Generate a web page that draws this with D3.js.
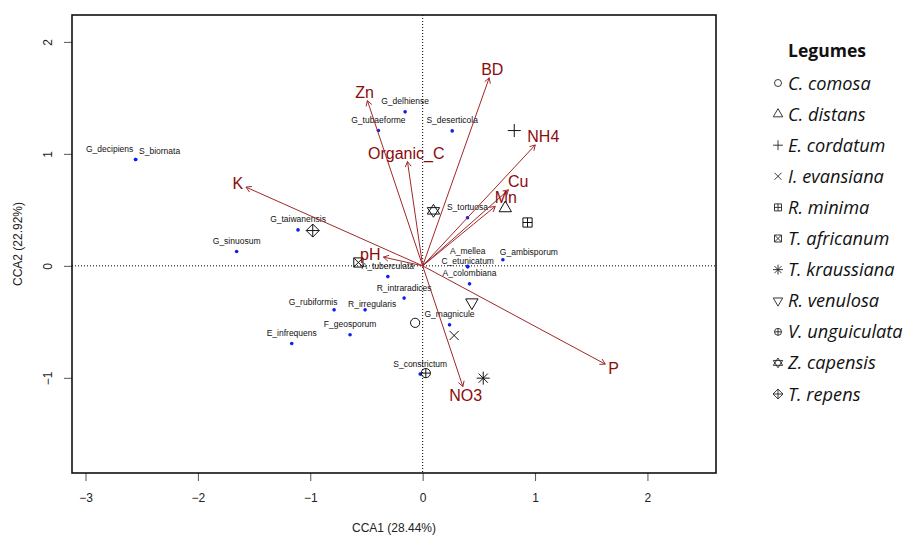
<!DOCTYPE html>
<html>
<head>
<meta charset="utf-8">
<script src="https://cdn.jsdelivr.net/npm/d3@7"></script>
<style>
  body { margin: 0; background: #fff; }
  text { font-family: "Liberation Sans", Arial, sans-serif; }
</style>
</head>
<body>
<svg id="chart" width="911" height="536"></svg>
<script>
// fungal species scores (blue dots)
var species = ["G_decipiens", "S_biornata", "G_taiwanensis", "G_sinuosum", "G_delhiense",
  "G_tubaeforme", "S_deserticola", "S_tortuosa", "A_tuberculata", "R_intraradices",
  "G_rubiformis", "R_irregularis", "F_geosporum", "E_infrequens", "S_constrictum",
  "G_magnicule", "A_colombiana", "C_etunicatum", "A_mellea", "G_ambisporum"];
var speciesX = [-2.554, -2.554, -1.109, -1.655, -0.156, -0.394, 0.263, 0.399, -0.310, -0.165,
  -0.788, -0.512, -0.646, -1.165, -0.022, 0.239, 0.417, 0.401, 0.401, 0.714];
var speciesY = [0.949, 0.949, 0.321, 0.128, 1.375, 1.208, 1.205, 0.429, -0.096, -0.288,
  -0.393, -0.393, -0.616, -0.694, -0.967, -0.527, -0.161, -0.009, -0.004, 0.054];
// label nudges (px) where labels were pushed apart
var labelNudge = {
  "G_decipiens": [-26, 0], "S_biornata": [24, 2], "G_rubiformis": [-21, 3],
  "R_irregularis": [7, 4.5], "G_ambisporum": [26, 3], "C_etunicatum": [0, 4.5],
  "A_mellea": [0, -4.5]
};

// environmental vectors
var envVars = ["BD", "Zn", "Organic_C", "NH4", "Cu", "Mn", "K", "pH", "P", "NO3"];
var envX = [0.592, -0.492, -0.135, 1.002, 0.764, 0.646, -1.572, -0.349, 1.625, 0.358];
var envY = [1.679, 1.476, 0.931, 1.080, 0.679, 0.531, 0.703, 0.078, -0.878, -1.078];

// legume site scores
var legumes = ["C. comosa", "C. distans", "E. cordatum", "I. evansiana", "R. minima",
  "T. africanum", "T. kraussiana", "R. venulosa", "V. unguiculata", "Z. capensis", "T. repens"];
var legumePch = [1, 2, 3, 4, 12, 7, 8, 6, 10, 11, 9];
var legumeX = [-0.067, 0.735, 0.815, 0.280, 0.933, -0.572, 0.539, 0.438, 0.028, 0.096, -0.978];
var legumeY = [-0.509, 0.515, 1.208, -0.622, 0.387, 0.030, -1.003, -0.327, -0.958, 0.491, 0.315];

var xTicks = [-3, -2, -1, 0, 1, 2];
var yTicks = [-1, 0, 1, 2];

var svg = d3.select("#chart");
var box = {left: 72, right: 716, top: 15, bottom: 473};

var x = d3.scaleLinear().domain([-3.12, 2.61]).range([box.left, box.right]);
var y = d3.scaleLinear().domain([-1.85, 2.24]).range([box.bottom, box.top]);

var arrowCol = "#a0282a", labCol = "#8b0a0a";

// zero lines
svg.append("line").attr("x1", x(0)).attr("x2", x(0)).attr("y1", box.top).attr("y2", box.bottom)
  .attr("stroke", "#000").attr("stroke-dasharray", "1,2");
svg.append("line").attr("x1", box.left).attr("x2", box.right).attr("y1", y(0)).attr("y2", y(0))
  .attr("stroke", "#000").attr("stroke-dasharray", "1,2");

// species points + labels
var sp = species.map(function(d, i) { return {name: d, x: speciesX[i], y: speciesY[i]}; });
svg.append("g").selectAll("circle").data(sp).enter().append("circle")
  .attr("cx", function(d) { return x(d.x); })
  .attr("cy", function(d) { return y(d.y); })
  .attr("r", 1.8).attr("fill", "#0a1ff0");
svg.append("g").selectAll("text").data(sp).enter().append("text")
  .attr("x", function(d) { return x(d.x) + (labelNudge[d.name] ? labelNudge[d.name][0] : 0); })
  .attr("y", function(d) { return y(d.y) - 10.5 + (labelNudge[d.name] ? labelNudge[d.name][1] : 0) + 3; })
  .attr("text-anchor", "middle").attr("font-size", 8.5).attr("fill", "#111")
  .text(function(d) { return d.name; });

// R-like plotting symbols
function pchPath(pch, r) {
  var s2 = Math.SQRT2 * r, p = d3.path();
  function seg(a, b, c, d) { p.moveTo(a, b); p.lineTo(c, d); }
  function tri(up) {
    var t0 = 1.555 * r, t1 = 1.347 * r, t2 = 0.778 * r, k = up ? 1 : -1;
    p.moveTo(0, -k * t0); p.lineTo(t1, k * t2); p.lineTo(-t1, k * t2); p.closePath();
  }
  switch (pch) {
    case 1: p.arc(0, 0, r, 0, 2 * Math.PI); break;
    case 2: tri(true); break;
    case 6: tri(false); break;
    case 3: seg(-s2, 0, s2, 0); seg(0, -s2, 0, s2); break;
    case 4: seg(-r, -r, r, r); seg(-r, r, r, -r); break;
    case 8: seg(-r, -r, r, r); seg(-r, r, r, -r); seg(-s2, 0, s2, 0); seg(0, -s2, 0, s2); break;
    case 9: seg(-s2, 0, s2, 0); seg(0, -s2, 0, s2);
      p.moveTo(0, -s2); p.lineTo(s2, 0); p.lineTo(0, s2); p.lineTo(-s2, 0); p.closePath(); break;
    case 10: p.moveTo(r, 0); p.arc(0, 0, r, 0, 2 * Math.PI); seg(-r, 0, r, 0); seg(0, -r, 0, r); break;
    case 11:
      var a = 1.4 * r, c = 1.347 * r, yb = 0.7 * r;
      p.moveTo(0, -a); p.lineTo(c, yb); p.lineTo(-c, yb); p.closePath();
      p.moveTo(0, a); p.lineTo(c, -yb); p.lineTo(-c, -yb); p.closePath(); break;
    case 12: p.rect(-r, -r, 2 * r, 2 * r); seg(-r, 0, r, 0); seg(0, -r, 0, r); break;
    case 7: p.rect(-r, -r, 2 * r, 2 * r); seg(-r, -r, r, r); seg(-r, r, r, -r); break;
  }
  return p.toString();
}

var lg = legumes.map(function(d, i) { return {name: d, pch: legumePch[i], x: legumeX[i], y: legumeY[i]}; });
svg.append("g").selectAll("path").data(lg).enter().append("path")
  .attr("transform", function(d) { return "translate(" + x(d.x) + "," + y(d.y) + ")"; })
  .attr("d", function(d) { return pchPath(d.pch, 4.6); })
  .attr("fill", "none").attr("stroke", "#111").attr("stroke-width", 1);

// environmental arrows
var env = envVars.map(function(d, i) { return {name: d, x: envX[i], y: envY[i]}; });
var ag = svg.append("g");
env.forEach(function(d) {
  var x0 = x(0), y0 = y(0), x1 = x(d.x), y1 = y(d.y);
  var ang = Math.atan2(y1 - y0, x1 - x0), L = 6, sp30 = Math.PI / 6;
  ag.append("line").attr("x1", x0).attr("y1", y0).attr("x2", x1).attr("y2", y1)
    .attr("stroke", arrowCol).attr("stroke-width", 1);
  ag.append("path")
    .attr("d", "M" + (x1 - L * Math.cos(ang - sp30)) + "," + (y1 - L * Math.sin(ang - sp30)) +
      "L" + x1 + "," + y1 +
      "L" + (x1 - L * Math.cos(ang + sp30)) + "," + (y1 - L * Math.sin(ang + sp30)))
    .attr("fill", "none").attr("stroke", arrowCol).attr("stroke-width", 1);

  // label pushed beyond the arrow tip (vegan ordiArrowTextXY logic)
  var fs = 16, h = fs * 0.72;
  var t = ag.append("text").attr("font-size", fs).attr("fill", labCol)
    .attr("text-anchor", "middle").text(d.name);
  var w = t.node().getComputedTextLength();
  var vx = x1 - x0, vy = y0 - y1;
  var b = vy / vx;
  var ox = Math.sign(vx) * (w / 2 + h / 4), oy = 0.75 * h * Math.sign(vy);
  var move = oy / b;
  if (isFinite(move) && Math.abs(move) <= Math.abs(ox)) ox = move;
  else oy = b * ox;
  t.attr("x", x1 + ox).attr("y", y1 - oy + h / 2);
});

// axes
var xAxis = svg.append("g").attr("transform", "translate(0," + box.bottom + ")")
  .call(d3.axisBottom(x).tickValues(xTicks).tickSize(8).tickPadding(12).tickFormat(d3.format("d")));
xAxis.select(".domain").remove();
xAxis.selectAll("text").attr("font-size", 12).attr("fill", "#222")
  .style("font-family", "'Liberation Sans', Arial, sans-serif");
xAxis.selectAll("line").attr("stroke", "#555");

var yAxis = svg.append("g").attr("transform", "translate(" + box.left + ",0)")
  .call(d3.axisLeft(y).tickValues(yTicks).tickSize(8).tickFormat(d3.format("d")));
yAxis.select(".domain").remove();
yAxis.selectAll("line").attr("stroke", "#555");
yAxis.selectAll("text").attr("font-size", 12).attr("fill", "#222")
  .style("font-family", "'Liberation Sans', Arial, sans-serif")
  .attr("x", null).attr("dy", null).attr("text-anchor", "middle")
  .attr("transform", "translate(-24,0) rotate(-90)").attr("y", 4);

// plot frame
svg.append("rect").attr("x", box.left).attr("y", box.top)
  .attr("width", box.right - box.left).attr("height", box.bottom - box.top)
  .attr("fill", "none").attr("stroke", "#111").attr("stroke-width", 1.6);

// axis titles
svg.append("text").attr("x", (box.left + box.right) / 2).attr("y", 532)
  .attr("text-anchor", "middle").attr("font-size", 12).attr("fill", "#222").text("CCA1 (28.44%)");
svg.append("text").attr("transform", "translate(22," + (box.top + box.bottom) / 2 + ") rotate(-90)")
  .attr("text-anchor", "middle").attr("font-size", 12).attr("fill", "#222").text("CCA2 (22.92%)");

// legend
var leg = svg.append("g");
leg.append("text").attr("x", 827).attr("y", 57).attr("text-anchor", "middle")
  .attr("font-size", 17.5).attr("font-weight", "bold").style("font-family", "'Open Sans', sans-serif")
  .attr("fill", "#111").text("Legumes");
var li = leg.selectAll("g.item").data(lg).enter().append("g").attr("class", "item")
  .attr("transform", function(d, i) { return "translate(778," + (83 + i * 31.1) + ")"; });
li.append("path").attr("d", function(d) { return pchPath(d.pch, 3.5); })
  .attr("fill", "none").attr("stroke", "#222").attr("stroke-width", 0.9);
li.append("text").attr("x", 10).attr("y", 6.5).attr("font-size", 18.2).attr("font-style", "italic")
  .style("font-family", "'Open Sans', sans-serif").attr("fill", "#111")
  .text(function(d) { return d.name; });
</script>
</body>
</html>
